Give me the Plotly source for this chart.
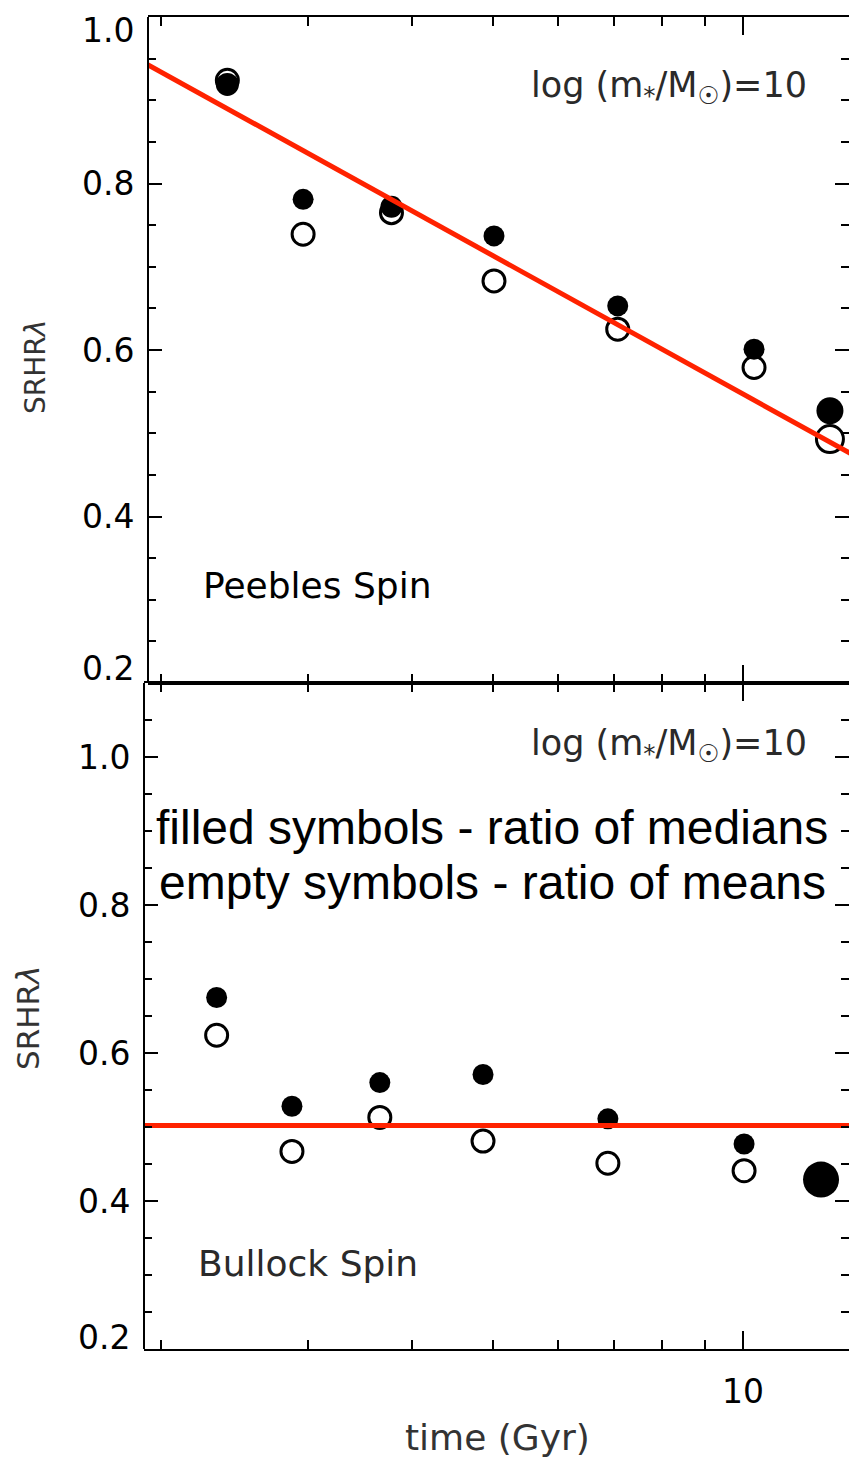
import plotly.graph_objects as go

W, H = 849, 1457

# ---- data -------------------------------------------------------------
# Peebles spin panel
peebles_t = [2.40, 2.96, 3.78, 5.02, 7.07, 10.31, 12.72]
peebles_median_ratio = [0.919, 0.781, 0.772, 0.737, 0.653, 0.601, 0.527]
peebles_mean_ratio = [0.924, 0.739, 0.765, 0.683, 0.625, 0.579, 0.493]
peebles_fit_t = [1.9, 13.5]
peebles_fit = [0.946, 0.475]

# Bullock spin panel
bullock_t = [2.33, 2.87, 3.66, 4.87, 6.88, 10.03, 12.41]
bullock_median_ratio = [0.675, 0.528, 0.560, 0.571, 0.511, 0.477, 0.429]
bullock_mean_t = [2.33, 2.87, 3.66, 4.87, 6.88, 10.03]
bullock_mean_ratio = [0.624, 0.467, 0.513, 0.481, 0.451, 0.441]
bullock_fit_t = [1.9, 13.5]
bullock_fit = [0.502, 0.502]

y_tick_vals = [0.2, 0.4, 0.6, 0.8, 1.0]
y_tick_text = ["0.2", "0.4", "0.6", "0.8", "1.0"]
x_major_vals = [10]
x_major_text = ["10"]
x_minor_vals = [2, 3, 4, 5, 6, 7, 8, 9]

# ---- styling ----------------------------------------------------------
FONT = "DejaVu Sans"
RED = "#ff2200"
peebles_med_size = [23, 21, 22, 21, 21, 21, 27]
peebles_mean_size = [22, 22, 22, 22, 22, 22, 27]
bullock_med_size = [21, 21, 21, 21, 21, 21, 36]
bullock_mean_size = [22, 22, 22, 22, 22, 22]


def px_x(p):
    return p / W


def px_y(p):
    return 1 - p / H


fig = go.Figure()


def add_panel(xa, ya, t_med, med, med_size, t_mean, mean, mean_size, fit_t, fit):
    fig.add_trace(go.Scatter(
        x=t_mean, y=mean, mode="markers", xaxis=xa, yaxis=ya,
        marker=dict(symbol="circle", size=mean_size, color="white", opacity=1,
                    line=dict(color="black", width=3)),
        cliponaxis=False, showlegend=False, hoverinfo="skip"))
    fig.add_trace(go.Scatter(
        x=t_med, y=med, mode="markers", xaxis=xa, yaxis=ya,
        marker=dict(symbol="circle", size=med_size, color="black", opacity=1,
                    line=dict(width=0)),
        cliponaxis=False, showlegend=False, hoverinfo="skip"))
    fig.add_trace(go.Scatter(
        x=fit_t, y=fit, mode="lines", xaxis=xa, yaxis=ya,
        line=dict(color=RED, width=5), showlegend=False, hoverinfo="skip"))


add_panel("x", "y", peebles_t, peebles_median_ratio, peebles_med_size,
          peebles_t, peebles_mean_ratio, peebles_mean_size,
          peebles_fit_t, peebles_fit)
add_panel("x2", "y2", bullock_t, bullock_median_ratio, bullock_med_size,
          bullock_mean_t, bullock_mean_ratio, bullock_mean_size,
          bullock_fit_t, bullock_fit)

# panel geometry (pixels)
TOP_L, BOT_L = 148, 144
TOP_T, MID, BOT_B = 17, 683, 1349
PX_PER_DEC = 832.0
X10 = 743.0


def log_at(p):
    return 1 + (p - X10) / PX_PER_DEC


xcommon = dict(
    type="log", showline=True, linewidth=2, linecolor="black", mirror="ticks",
    ticks="inside", tickvals=x_major_vals, ticktext=x_major_text,
    ticklen=18, tickwidth=2, tickcolor="black",
    minor=dict(tickvals=x_minor_vals, ticks="inside", ticklen=9,
               tickwidth=2, tickcolor="black"),
    showgrid=False, zeroline=False, ticklabelstandoff=12,
    tickfont=dict(family=FONT, size=33, color="black"),
)
ycommon = dict(
    showline=False, mirror="ticks", ticks="inside", tickvals=y_tick_vals,
    showticklabels=False, ticklen=14, tickwidth=2, tickcolor="black",
    minor=dict(tick0=0, dtick=0.05, ticks="inside", ticklen=8,
               tickwidth=2, tickcolor="black"),
    showgrid=False, zeroline=False,
)

fig.update_layout(
    width=W, height=H, margin=dict(l=0, r=0, t=0, b=0),
    paper_bgcolor="white", plot_bgcolor="white",
    xaxis=dict(xcommon, domain=[px_x(TOP_L), 1], anchor="y",
               range=[log_at(TOP_L), log_at(W)], showticklabels=False),
    yaxis=dict(ycommon, domain=[px_y(MID), px_y(TOP_T)], anchor="x",
               range=[0.2, 1.0]),
    xaxis2=dict(xcommon, domain=[px_x(BOT_L), 1], anchor="y2",
                range=[log_at(BOT_L), log_at(W)], showticklabels=True),
    yaxis2=dict(ycommon, domain=[px_y(BOT_B), px_y(MID)], anchor="x2",
                range=[0.2, 1.1]),
)

# left axis lines
fig.add_shape(type="line", xref="paper", yref="paper",
              x0=px_x(TOP_L), x1=px_x(TOP_L), y0=px_y(MID), y1=px_y(TOP_T),
              line=dict(color="black", width=2))
fig.add_shape(type="line", xref="paper", yref="paper",
              x0=px_x(BOT_L), x1=px_x(BOT_L), y0=px_y(BOT_B), y1=px_y(MID),
              line=dict(color="black", width=2))

ann = []

# y tick labels
top_shift = {0.2: 15, 1.0: -13}
bot_shift = {0.2: 12}
for v, t in zip(y_tick_vals, y_tick_text):
    ann.append(dict(x=px_x(136), xref="paper", y=v, yref="y", text=t,
                    xanchor="right", yanchor="middle", showarrow=False,
                    yshift=top_shift.get(v, 0),
                    font=dict(family=FONT, size=33, color="black")))
    ann.append(dict(x=px_x(132), xref="paper", y=v, yref="y2", text=t,
                    xanchor="right", yanchor="middle", showarrow=False,
                    yshift=bot_shift.get(v, 0),
                    font=dict(family=FONT, size=33, color="black")))

mass_label = "log (m<sub>*</sub>/M<sub>☉</sub>)=10"
for yy in (88, 745):
    ann.append(dict(x=px_x(669), y=px_y(yy), xref="paper", yref="paper",
                    text=mass_label, showarrow=False, xanchor="center",
                    yanchor="middle",
                    font=dict(family=FONT, size=35, color="#2a2a2a")))

ann.append(dict(x=px_x(201), y=px_y(586), xref="paper", yref="paper",
                text="Peebles Spin", showarrow=False, xanchor="left",
                yanchor="middle", font=dict(family=FONT, size=36, color="black")))
ann.append(dict(x=px_x(196), y=px_y(1263), xref="paper", yref="paper",
                text="Bullock Spin", showarrow=False, xanchor="left",
                yanchor="middle", font=dict(family=FONT, size=36, color="#2a2a2a")))

ann.append(dict(x=px_x(492), y=px_y(828), xref="paper", yref="paper",
                text="filled symbols - ratio of medians", showarrow=False,
                xanchor="center", yanchor="middle",
                font=dict(family="Liberation Sans", size=48, color="black")))
ann.append(dict(x=px_x(492), y=px_y(882), xref="paper", yref="paper",
                text="empty symbols - ratio of means", showarrow=False,
                xanchor="center", yanchor="middle",
                font=dict(family="Liberation Sans", size=48, color="black")))

ann.append(dict(x=px_x(35), y=px_y(367), xref="paper", yref="paper",
                text="SRHR<i>λ</i>", showarrow=False, textangle=-90,
                xanchor="center", yanchor="middle",
                font=dict(family=FONT, size=28, color="#333333")))
ann.append(dict(x=px_x(28), y=px_y(1018), xref="paper", yref="paper",
                text="SRHR<i>λ</i>", showarrow=False, textangle=-90,
                xanchor="center", yanchor="middle",
                font=dict(family=FONT, size=31, color="#333333")))

ann.append(dict(x=px_x(497), y=px_y(1437), xref="paper", yref="paper",
                text="time (Gyr)", showarrow=False, xanchor="center",
                yanchor="middle", font=dict(family=FONT, size=36, color="#333333")))

fig.update_layout(annotations=ann)

fig.write_html("out.html")
